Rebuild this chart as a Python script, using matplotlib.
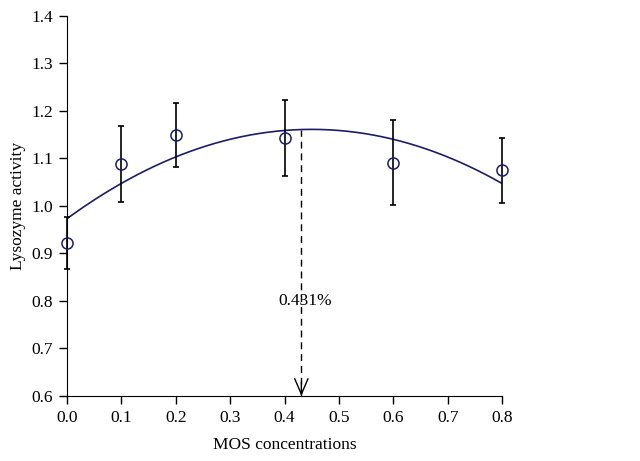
import numpy as np
import matplotlib
matplotlib.use("Agg")
import matplotlib.pyplot as plt

plt.rcParams['font.family'] = ['Liberation Serif', 'DejaVu Serif']

# Data
mos = [0.0, 0.1, 0.2, 0.4, 0.6, 0.8]
activity = [0.922, 1.088, 1.149, 1.142, 1.091, 1.075]
errors = [0.055, 0.080, 0.067, 0.080, 0.090, 0.068]

# Quadratic fit: y = c0 + c1*x + c2*x^2
fit_c0 = 0.973
fit_c1 = 0.835
fit_c2 = -0.928
optimum = 0.431
opt_label = "0.431%"

xticks = [0.0, 0.1, 0.2, 0.3, 0.4, 0.5, 0.6, 0.7, 0.8]
yticks = [0.6, 0.7, 0.8, 0.9, 1.0, 1.1, 1.2, 1.3, 1.4]

navy = '#1c1c6b'

fig = plt.figure(figsize=(6.4, 4.61), dpi=100)
ax = fig.add_axes([0.1047, 0.141, 0.6797, 0.825])

xs = np.linspace(0, 0.8, 200)
ys = fit_c0 + fit_c1 * xs + fit_c2 * xs ** 2
ax.plot(xs, ys, color=navy, lw=1.2, zorder=2)

ax.errorbar(mos, activity, yerr=errors, fmt='none', ecolor='black',
            elinewidth=1.2, capsize=2.5, capthick=1.2, zorder=3,
            clip_on=False)
ax.plot(mos, activity, 'o', mfc='none', mec=navy, ms=8, mew=1.1,
        zorder=4, clip_on=False)

y_opt = fit_c0 + fit_c1 * optimum + fit_c2 * optimum ** 2
ax.plot([optimum, optimum], [0.6, y_opt], color='black', lw=1.0,
        linestyle=(0, (5, 3.5)), zorder=1)
ax.annotate('', xy=(optimum, 0.6), xytext=(optimum, 0.63),
            arrowprops=dict(arrowstyle='->, head_length=0.7, head_width=0.3',
                            color='black', lw=1.0, mutation_scale=16,
                            shrinkA=0, shrinkB=0), zorder=1)
ax.text(optimum + 0.007, 0.8, opt_label, ha='center', va='center', fontsize=12.5)

ax.set_xlim(0, 0.8)
ax.set_ylim(0.6, 1.4)
ax.set_xticks(xticks)
ax.set_yticks(yticks)
ax.set_xticklabels([f"{t:.1f}" for t in xticks])
ax.set_yticklabels([f"{t:.1f}" for t in yticks])
ax.spines['top'].set_visible(False)
ax.spines['right'].set_visible(False)
ax.tick_params(direction='out', length=6, width=1, labelsize=12.5, pad=4)
ax.set_xlabel('MOS concentrations', fontsize=12.5, labelpad=8)
ax.set_ylabel('Lysozyme activity', fontsize=12.5, labelpad=4)

fig.savefig('out.png', dpi=100)
